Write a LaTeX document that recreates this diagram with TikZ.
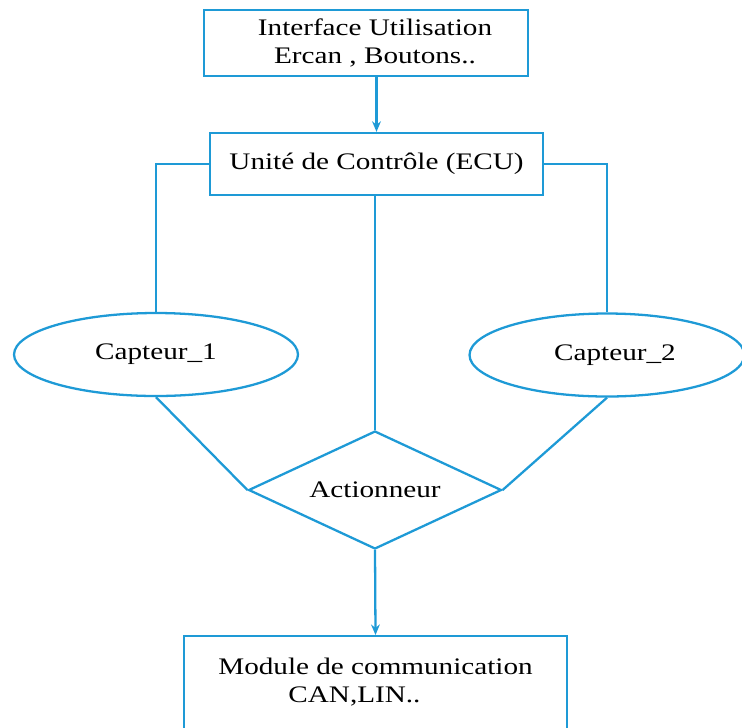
\documentclass[tikz,border=0pt]{standalone}
\usepackage{fontspec}
\setmainfont{Liberation Serif}[FakeStretch=1.23]
\usepackage{tikz}
\usetikzlibrary{arrows.meta,shapes.geometric}
\definecolor{diagblue}{RGB}{30,154,214}

\begin{document}
\begin{tikzpicture}[x=0.02cm,y=-0.02cm,
        every node/.style={font=\fontsize{13.5}{15.9}\selectfont},
        bloc/.style={draw=diagblue,line width=1.3pt,rectangle,inner sep=0pt,align=center},
        capteur/.style={draw=diagblue,line width=1.3pt,ellipse,inner sep=0pt,minimum height=1.66cm},
        lien/.style={draw=diagblue,line width=1.3pt},
        fleche/.style={lien,-{Stealth[length=6pt,width=5pt]}}]
        \useasboundingbox (0,0) rectangle (742,727);

        \node[bloc,minimum width=6.48cm,minimum height=1.32cm] (iface) at (366,43)
            {\hspace*{0.36cm}Interface Utilisation\\\hspace*{0.36cm}Ercan , Boutons..};
        \node[bloc,minimum width=6.66cm,minimum height=1.24cm] (ecu) at (376.5,164) {Unité de Contrôle (ECU)};
        \node[capteur,minimum width=5.68cm] (cap1) at (156,354.5) {Capteur\_1};
        \node[capteur,minimum width=5.5cm,align=center] (cap2) at (607,355) {\hspace*{0.32cm}Capteur\_2};
        \node[draw=diagblue,line width=1.3pt,diamond,shape aspect=2.1,inner sep=0pt,
              minimum width=5.06cm,minimum height=2.36cm] (act) at (375,490) {Actionneur};
        \node[bloc,anchor=north,minimum width=7.66cm,minimum height=2.32cm] (mod) at (375.5,635)
            {Module de communication\\CAN,LIN..\rule{0.84cm}{0pt}\\\mbox{}};

        \draw[fleche] (ecu.north |- iface.south) -- (ecu.north);
        \draw[lien] (ecu.west) -| (cap1.north);
        \draw[lien] (ecu.east) -| (cap2.north);
        \draw[lien] (act.north |- ecu.south) -- (act.north);
        \draw[lien] (cap1.south) -- (act.west);
        \draw[lien] (cap2.south) -- (act.east);
        \draw[fleche] (act.south) -- (mod.north);
\end{tikzpicture}
\end{document}
